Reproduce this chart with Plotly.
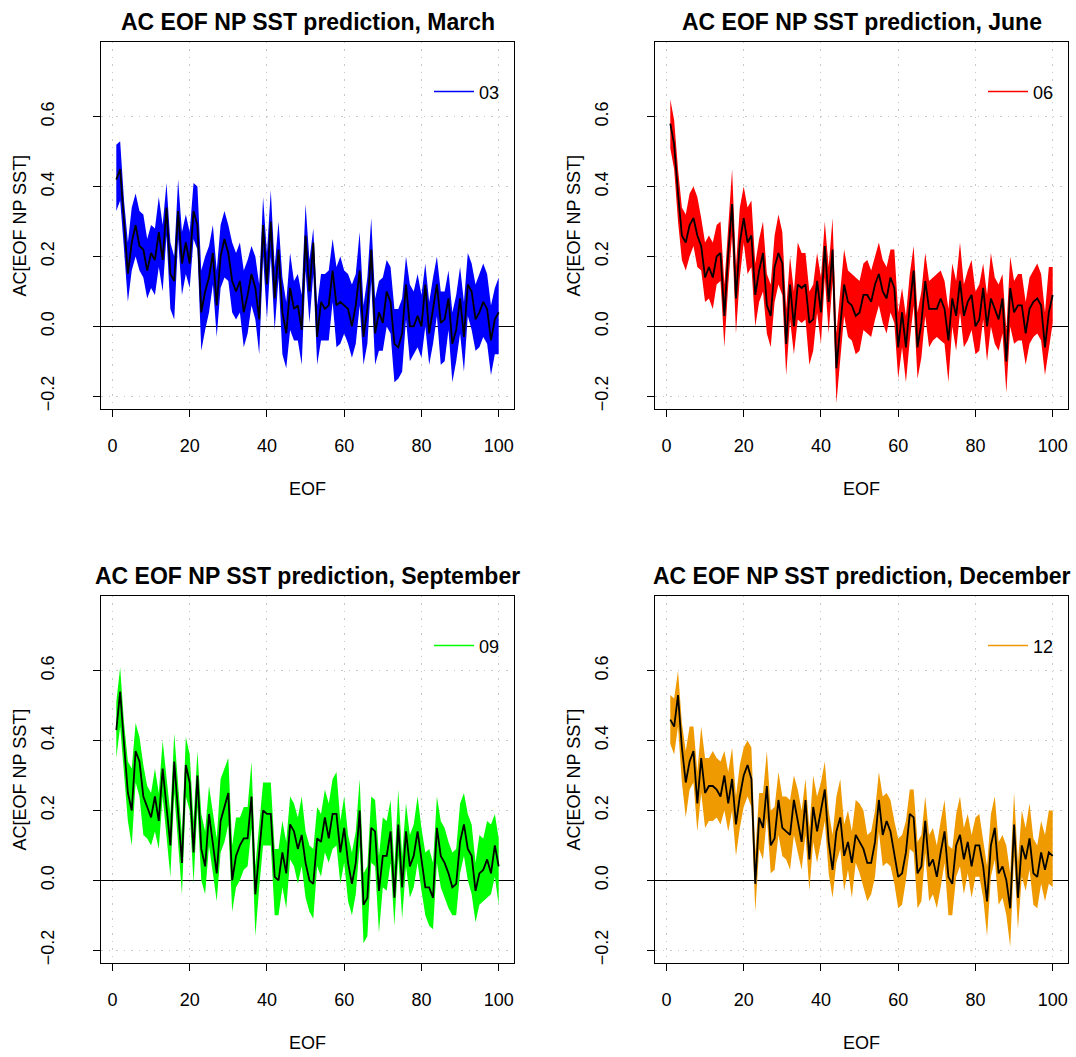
import plotly.graph_objects as go

EOF = list(range(1, 101))

mar_mean = [0.42,0.45,0.30,0.15,0.24,0.29,0.23,0.22,0.16,0.21,
            0.19,0.27,0.19,0.34,0.15,0.13,0.33,0.18,0.24,0.18,
            0.33,0.29,0.04,0.10,0.14,0.21,0.06,0.20,0.25,0.21,
            0.13,0.10,0.13,0.04,0.09,0.15,0.11,0.02,0.29,0.12,
            0.30,0.08,0.22,0.04,-0.02,0.11,0.05,0.06,-0.01,0.26,
            0.10,0.24,-0.03,0.07,0.05,0.06,0.16,0.06,0.07,0.06,
            0.05,0.00,0.06,0.16,-0.03,0.05,0.22,-0.02,0.04,0.01,
            0.10,0.07,-0.05,-0.06,-0.02,0.12,0.00,0.00,0.03,0.00,
            0.12,-0.02,0.05,0.12,0.01,0.02,0.08,-0.05,-0.01,0.08,
            -0.03,0.12,0.10,0.02,0.04,0.07,0.05,-0.04,0.02,0.04]
mar_hi = [0.52,0.53,0.36,0.24,0.34,0.38,0.33,0.32,0.25,0.29,
          0.28,0.37,0.29,0.41,0.24,0.20,0.42,0.27,0.32,0.27,
          0.41,0.40,0.16,0.20,0.23,0.29,0.16,0.29,0.33,0.29,
          0.24,0.21,0.24,0.16,0.19,0.23,0.20,0.12,0.37,0.21,
          0.39,0.17,0.30,0.14,0.07,0.21,0.13,0.15,0.09,0.35,
          0.19,0.28,0.06,0.15,0.15,0.16,0.25,0.17,0.20,0.16,
          0.15,0.12,0.15,0.27,0.06,0.14,0.31,0.08,0.13,0.14,
          0.19,0.17,0.05,0.05,0.08,0.20,0.12,0.10,0.15,0.09,
          0.18,0.07,0.14,0.20,0.10,0.10,0.16,0.04,0.09,0.17,
          0.07,0.21,0.18,0.12,0.15,0.18,0.15,0.06,0.11,0.14]
mar_lo = [0.33,0.36,0.22,0.07,0.16,0.20,0.16,0.14,0.08,0.11,
          0.09,0.17,0.10,0.26,0.05,0.02,0.25,0.09,0.15,0.11,
          0.25,0.22,-0.07,-0.01,0.04,0.12,-0.03,0.11,0.14,0.13,
          0.04,0.02,0.04,-0.06,-0.02,0.06,0.02,-0.08,0.20,0.02,
          0.20,-0.01,0.14,-0.08,-0.12,-0.01,-0.04,-0.04,-0.11,0.16,
          0.01,0.15,-0.11,-0.04,-0.04,-0.04,0.07,-0.06,-0.05,-0.02,
          -0.05,-0.09,-0.05,0.06,-0.11,-0.05,0.13,-0.11,-0.07,-0.07,
          0.00,-0.02,-0.16,-0.15,-0.13,0.02,-0.10,-0.08,-0.06,-0.09,
          0.00,-0.11,-0.05,0.03,-0.11,-0.10,-0.01,-0.16,-0.10,-0.02,
          -0.13,0.03,-0.01,-0.07,-0.06,-0.03,-0.05,-0.14,-0.08,-0.08]

jun_mean = [0.58,0.52,0.38,0.26,0.24,0.29,0.31,0.26,0.23,0.14,
            0.17,0.14,0.20,0.21,0.03,0.21,0.35,0.08,0.24,0.31,
            0.24,0.26,0.09,0.16,0.21,0.06,0.03,0.17,0.21,0.18,
            -0.05,0.12,0.00,0.12,0.11,0.12,0.01,0.02,0.13,0.04,
            0.23,0.07,0.22,-0.12,0.00,0.12,0.07,0.06,0.03,0.04,
            0.09,0.09,0.07,0.12,0.15,0.10,0.08,0.14,0.11,-0.06,
            0.04,-0.06,0.06,0.16,-0.06,0.01,0.13,0.05,0.05,0.05,
            0.08,0.05,-0.04,0.08,0.03,0.13,0.03,0.07,0.09,0.00,
            0.02,0.11,0.00,0.08,0.05,0.02,0.08,-0.10,0.11,0.04,
            0.06,0.06,-0.02,0.05,0.07,0.08,0.06,-0.06,0.04,0.09]
jun_hi = [0.65,0.59,0.45,0.34,0.32,0.38,0.40,0.37,0.31,0.24,
          0.26,0.24,0.29,0.30,0.12,0.30,0.45,0.17,0.34,0.40,
          0.34,0.36,0.18,0.25,0.30,0.15,0.12,0.26,0.32,0.27,
          0.05,0.20,0.10,0.24,0.21,0.21,0.10,0.12,0.21,0.14,
          0.30,0.17,0.31,-0.02,0.10,0.22,0.16,0.15,0.14,0.13,
          0.18,0.19,0.16,0.20,0.24,0.19,0.17,0.22,0.22,0.04,
          0.11,0.03,0.15,0.23,0.04,0.10,0.21,0.13,0.14,0.15,
          0.16,0.13,0.05,0.18,0.13,0.24,0.12,0.16,0.19,0.10,
          0.12,0.18,0.09,0.21,0.14,0.12,0.15,-0.01,0.20,0.13,
          0.15,0.15,0.07,0.14,0.16,0.18,0.15,0.04,0.17,0.17]
jun_lo = [0.51,0.45,0.30,0.19,0.16,0.20,0.23,0.17,0.16,0.07,
          0.08,0.05,0.12,0.13,-0.06,0.12,0.26,-0.02,0.14,0.24,
          0.15,0.17,0.00,0.07,0.10,-0.02,-0.06,0.07,0.12,0.09,
          -0.14,0.02,-0.08,0.02,0.01,0.02,-0.11,-0.07,0.04,-0.05,
          0.14,-0.02,0.13,-0.22,-0.09,0.03,-0.03,-0.04,-0.08,-0.07,
          -0.01,-0.02,-0.03,0.02,0.06,0.01,-0.02,0.04,0.01,-0.15,
          -0.06,-0.16,-0.04,0.06,-0.15,-0.09,0.03,-0.06,-0.04,-0.03,
          -0.04,-0.05,-0.16,0.00,-0.07,0.04,-0.06,-0.04,-0.01,-0.08,
          -0.07,0.02,-0.10,0.00,-0.05,-0.07,-0.02,-0.19,0.00,-0.05,
          -0.04,-0.04,-0.11,-0.05,-0.03,-0.02,-0.04,-0.14,-0.06,0.01]

sep_mean = [0.43,0.54,0.39,0.25,0.20,0.37,0.34,0.24,0.21,0.18,
            0.24,0.17,0.32,0.21,0.10,0.34,0.20,0.05,0.33,0.28,
            0.08,0.30,0.09,0.04,0.19,0.11,0.02,0.17,0.21,0.25,
            0.00,0.07,0.10,0.12,0.12,0.24,-0.04,0.07,0.20,0.19,
            0.19,0.01,0.00,0.08,0.02,0.16,0.14,0.09,0.13,0.05,
            0.00,-0.01,0.12,0.11,0.18,0.12,0.19,0.19,0.08,0.15,
            0.05,-0.01,0.05,0.20,-0.07,-0.05,0.15,0.14,-0.03,0.07,
            0.07,0.14,-0.05,0.16,-0.02,0.14,0.04,0.07,0.14,0.06,
            -0.02,-0.02,-0.05,0.15,0.07,0.05,0.02,-0.02,-0.01,0.11,
            0.16,0.09,0.07,-0.03,0.02,0.03,0.06,0.02,0.10,0.04]
sep_hi = [0.51,0.61,0.45,0.34,0.32,0.45,0.41,0.33,0.27,0.25,
          0.32,0.25,0.40,0.30,0.19,0.42,0.28,0.13,0.41,0.36,
          0.17,0.37,0.19,0.14,0.27,0.20,0.12,0.29,0.32,0.35,
          0.10,0.18,0.18,0.21,0.21,0.34,0.04,0.17,0.28,0.28,
          0.28,0.09,0.09,0.17,0.11,0.24,0.22,0.18,0.24,0.14,
          0.10,0.09,0.21,0.19,0.26,0.22,0.29,0.31,0.17,0.24,
          0.13,0.08,0.14,0.29,0.02,0.04,0.24,0.23,0.07,0.18,
          0.17,0.23,0.04,0.26,0.07,0.22,0.13,0.16,0.24,0.15,
          0.08,0.09,0.05,0.24,0.17,0.15,0.11,0.08,0.09,0.22,
          0.25,0.19,0.16,0.05,0.13,0.12,0.17,0.16,0.19,0.12]
sep_lo = [0.35,0.44,0.30,0.17,0.10,0.28,0.24,0.13,0.12,0.10,
          0.14,0.09,0.24,0.12,0.01,0.25,0.10,-0.04,0.24,0.20,
          -0.01,0.21,0.00,-0.04,0.10,0.02,-0.06,0.08,0.11,0.16,
          -0.09,-0.02,0.00,0.03,0.04,0.15,-0.16,-0.02,0.10,0.10,
          0.10,-0.10,-0.10,-0.02,-0.08,0.06,0.04,-0.01,0.04,-0.05,
          -0.09,-0.11,0.04,0.01,0.08,0.05,0.09,0.10,-0.01,0.05,
          -0.06,-0.10,-0.04,0.10,-0.18,-0.16,0.05,0.04,-0.15,-0.02,
          -0.03,0.05,-0.13,0.07,-0.11,0.04,-0.05,-0.02,0.05,-0.03,
          -0.10,-0.13,-0.14,0.05,-0.02,-0.05,-0.08,-0.10,-0.10,0.02,
          0.07,0.00,-0.04,-0.12,-0.07,-0.06,-0.05,-0.04,0.01,-0.07]

dec_mean = [0.46,0.44,0.53,0.38,0.28,0.34,0.37,0.22,0.35,0.25,
            0.27,0.27,0.26,0.24,0.30,0.22,0.29,0.16,0.24,0.30,
            0.33,0.29,-0.01,0.18,0.15,0.27,0.10,0.12,0.23,0.15,
            0.14,0.13,0.23,0.17,0.11,0.23,0.06,0.21,0.14,0.20,
            0.26,0.11,0.03,0.14,0.18,0.07,0.11,0.05,0.13,0.11,
            0.09,0.05,0.05,0.11,0.23,0.13,0.17,0.14,0.08,0.01,
            0.02,0.08,0.19,0.18,0.02,0.04,0.17,0.04,0.06,0.01,
            0.08,0.14,0.01,-0.01,0.10,0.13,0.06,0.11,0.04,0.10,
            0.10,0.04,-0.06,0.10,0.15,0.02,0.04,0.00,-0.08,0.16,
            -0.05,0.10,0.06,0.12,0.02,0.01,0.08,0.03,0.08,0.07]
dec_hi = [0.53,0.52,0.60,0.45,0.37,0.44,0.44,0.31,0.44,0.35,
          0.35,0.37,0.35,0.34,0.37,0.31,0.38,0.24,0.33,0.38,
          0.40,0.38,0.08,0.25,0.25,0.37,0.20,0.21,0.31,0.24,
          0.24,0.23,0.30,0.26,0.20,0.29,0.15,0.30,0.24,0.28,
          0.34,0.20,0.13,0.24,0.29,0.16,0.20,0.14,0.23,0.22,
          0.20,0.13,0.14,0.20,0.31,0.24,0.25,0.23,0.17,0.12,
          0.13,0.17,0.26,0.26,0.11,0.13,0.24,0.13,0.15,0.10,
          0.17,0.23,0.10,0.09,0.19,0.24,0.15,0.19,0.13,0.18,
          0.19,0.12,0.04,0.19,0.24,0.11,0.13,0.10,0.02,0.25,
          0.05,0.20,0.15,0.22,0.12,0.10,0.17,0.13,0.20,0.20]
dec_lo = [0.39,0.36,0.44,0.28,0.18,0.26,0.28,0.14,0.25,0.15,
          0.17,0.17,0.18,0.16,0.20,0.14,0.20,0.07,0.15,0.21,
          0.24,0.21,-0.09,0.09,0.06,0.18,0.02,0.03,0.13,0.07,
          0.06,0.03,0.13,0.08,0.03,0.13,-0.03,0.11,0.05,0.11,
          0.17,0.02,-0.05,0.05,0.09,-0.03,0.03,-0.05,0.05,0.02,
          -0.02,-0.06,-0.04,0.01,0.14,0.04,0.05,0.04,-0.01,-0.08,
          -0.07,0.00,0.09,0.08,-0.08,-0.06,0.08,-0.06,-0.04,-0.08,
          -0.02,0.05,-0.10,-0.10,0.01,0.04,-0.04,0.02,-0.05,0.01,
          0.01,-0.05,-0.16,0.01,0.06,-0.07,-0.05,-0.10,-0.19,0.07,
          -0.14,0.01,-0.03,0.03,-0.07,-0.08,-0.01,-0.06,-0.01,-0.02]

x_ticks = [0, 20, 40, 60, 80, 100]
y_ticks = [-0.2, 0.0, 0.2, 0.4, 0.6]
y_tick_text = ["\u22120.2", "0.0", "0.2", "0.4", "0.6"]

W, H = 1076, 1057
FONT = "Liberation Sans, Arial, Helvetica, sans-serif"

panels = [
    dict(title="AC EOF NP SST prediction, March", name="03", color="#0000FF",
         mean=mar_mean, lo=mar_lo, hi=mar_hi, box=(101, 514, 42, 410)),
    dict(title="AC EOF NP SST prediction, June", name="06", color="#FF0000",
         mean=jun_mean, lo=jun_lo, hi=jun_hi, box=(655, 1068, 42, 410)),
    dict(title="AC EOF NP SST prediction, September", name="09", color="#00FF00",
         mean=sep_mean, lo=sep_lo, hi=sep_hi, box=(101, 514, 597, 965)),
    dict(title="AC EOF NP SST prediction, December", name="12", color="#EE9A00",
         mean=dec_mean, lo=dec_lo, hi=dec_hi, box=(655, 1068, 597, 965)),
]

fig = go.Figure()
layout = dict(width=W, height=H, margin=dict(l=0, r=0, t=0, b=0), autosize=False,
              paper_bgcolor="white", plot_bgcolor="white",
              font=dict(family=FONT, size=18, color="black"), annotations=[])

for i, p in enumerate(panels):
    n = "" if i == 0 else str(i + 1)
    xa, ya = "x" + n, "y" + n
    lg = "legend" + n
    x0, x1, y0, y1 = p["box"]
    band_x = EOF + EOF[::-1]
    band_y = p["hi"] + p["lo"][::-1]
    fig.add_trace(go.Scatter(x=band_x, y=band_y, fill="toself", fillcolor=p["color"],
                             mode="lines", line=dict(width=0, color=p["color"]),
                             showlegend=False, hoverinfo="skip", xaxis=xa, yaxis=ya))
    fig.add_trace(go.Scatter(x=EOF, y=p["mean"], mode="lines",
                             line=dict(color="black", width=1.8),
                             showlegend=False, xaxis=xa, yaxis=ya))
    fig.add_trace(go.Scatter(x=[None], y=[None], mode="lines", name=p["name"],
                             line=dict(color=p["color"], width=1.6),
                             showlegend=True, legend=lg, xaxis=xa, yaxis=ya))
    axis_common = dict(showline=True, mirror=True, linecolor="black", linewidth=1,
                       ticks="outside", ticklen=7, tickcolor="black", tickwidth=1,
                       showgrid=True, gridcolor="#c8c8c8", griddash="1.5px,6px",
                       gridwidth=1.2,
                       tickfont=dict(family=FONT, size=18, color="black"))
    layout["xaxis" + n] = dict(axis_common, domain=[x0 / W, x1 / W], range=[-2.96, 103.96],
                               anchor=ya, tickvals=x_ticks, zeroline=False,
                               ticklabelstandoff=13)
    layout["yaxis" + n] = dict(axis_common, domain=[(H - y1) / H, (H - y0) / H],
                               range=[-0.237, 0.814], anchor=xa, tickvals=y_ticks,
                               ticktext=y_tick_text, tickangle=-90,
                               zeroline=True, zerolinecolor="black", zerolinewidth=1.2,
                               ticklabelstandoff=32)
    layout[lg] = dict(x=(x1 - 85) / W, y=(H - (y0 + 50)) / H, xanchor="left",
                      yanchor="middle", bgcolor="rgba(0,0,0,0)", borderwidth=0,
                      itemwidth=40, font=dict(family=FONT, size=18, color="black"))
    cx = (x0 + x1) / 2
    layout["annotations"] += [
        dict(text="<b>" + p["title"] + "</b>", x=cx / W, y=(H - (y0 - 20)) / H,
             xref="paper", yref="paper", showarrow=False, xanchor="center", yanchor="middle",
             font=dict(family=FONT, size=23, color="black")),
        dict(text="EOF", x=cx / W, y=(H - (y1 + 80)) / H, xref="paper", yref="paper",
             showarrow=False, xanchor="center", yanchor="middle",
             font=dict(family=FONT, size=18, color="black")),
        dict(text="AC[EOF NP SST]", x=(x0 - 81) / W, y=(H - (y0 + y1) / 2) / H,
             xref="paper", yref="paper", showarrow=False, textangle=-90,
             xanchor="center", yanchor="middle",
             font=dict(family=FONT, size=18, color="black")),
    ]

fig.update_layout(**layout)
fig.write_html("out.html")
